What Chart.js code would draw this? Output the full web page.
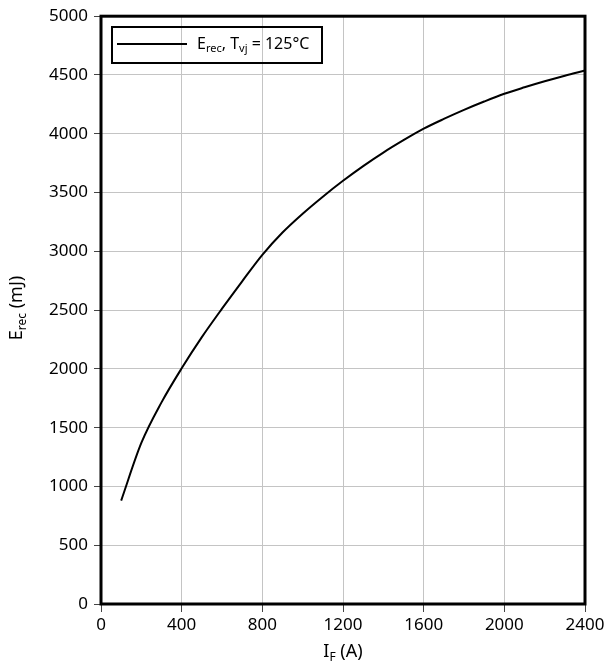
<!DOCTYPE html>
<html>
<head>
<meta charset="utf-8">
<script src="https://cdn.jsdelivr.net/npm/chart.js@4"></script>
<style>
  html, body { margin: 0; padding: 0; background: #fff; }
  #wrap { width: 610px; height: 668px; position: relative; }
</style>
</head>
<body>
<div id="wrap"><canvas id="chart"></canvas></div>
<script>
// datos
const currentA = [100, 200, 300, 400, 500, 600, 700, 800, 900, 1000, 1100, 1200, 1300, 1400, 1500, 1600, 1700, 1800, 1900, 2000, 2100, 2200, 2300, 2400];
const erecMJ   = [880, 1370, 1715, 2005, 2270, 2512, 2745, 2970, 3160, 3320, 3465, 3600, 3725, 3840, 3945, 4043, 4126, 4203, 4274, 4340, 4395, 4446, 4494, 4538];
const xTicks = [0, 400, 800, 1200, 1600, 2000, 2400];
const yTicks = [0, 500, 1000, 1500, 2000, 2500, 3000, 3500, 4000, 4500, 5000];

const FONT = '"Noto Sans", "Open Sans", sans-serif';

// texto con subíndice
function drawSub(ctx, parts, x, y, size) {
    let cx = x;
    parts.forEach(p => {
        ctx.font = (p.sub ? Math.round(size * 0.68) : size) + 'px ' + FONT;
        ctx.fillText(p.t, cx, y + (p.sub ? size * 0.33 : 0));
        cx += ctx.measureText(p.t).width;
    });
    return cx - x;
}
function measureSub(ctx, parts, size) {
    let w = 0;
    parts.forEach(p => {
        ctx.font = (p.sub ? Math.round(size * 0.68) : size) + 'px ' + FONT;
        w += ctx.measureText(p.t).width;
    });
    return w;
}

const extras = {
    id: 'extras',
    afterDraw(chart) {
        const ctx = chart.ctx;
        const a = chart.chartArea;
        ctx.save();
        // marco grueso
        ctx.strokeStyle = '#000';
        ctx.lineWidth = 3;
        ctx.strokeRect(a.left, a.top, a.right - a.left, a.bottom - a.top);

        ctx.fillStyle = '#000';
        ctx.textBaseline = 'middle';

        // leyenda
        ctx.lineWidth = 2;
        ctx.strokeRect(112, 27, 210, 36);
        ctx.beginPath();
        ctx.moveTo(117, 44);
        ctx.lineTo(187, 44);
        ctx.stroke();
        drawSub(ctx, [{t: 'E'}, {t: 'rec', sub: true}, {t: ', T'}, {t: 'vj', sub: true}, {t: ' = 125°C'}], 197, 44, 16);

        // título eje x
        const xp = [{t: 'I'}, {t: 'F', sub: true}, {t: ' (A)'}];
        drawSub(ctx, xp, 343 - measureSub(ctx, xp, 18) / 2, 652, 18);

        // título eje y
        const yp = [{t: 'E'}, {t: 'rec', sub: true}, {t: ' (mJ)'}];
        ctx.translate(17, 308);
        ctx.rotate(-Math.PI / 2);
        drawSub(ctx, yp, -measureSub(ctx, yp, 18) / 2, 0, 18);
        ctx.restore();
    }
};

new Chart(document.getElementById('chart'), {
    type: 'line',
    data: {
        datasets: [{
            data: currentA.map((x, i) => ({ x: x, y: erecMJ[i] })),
            borderColor: '#000',
            borderWidth: 2,
            pointRadius: 0,
            fill: false,
            cubicInterpolationMode: 'monotone'
        }]
    },
    options: {
        responsive: true,
        maintainAspectRatio: false,
        animation: false,
        layout: { padding: { top: 15, right: 25, left: 0, bottom: 0 } },
        plugins: { legend: { display: false }, tooltip: { enabled: false } },
        scales: {
            x: {
                type: 'linear',
                min: 0, max: 2400,
                afterBuildTicks: s => { s.ticks = xTicks.map(v => ({ value: v })); },
                afterFit: s => { s.height = 64; },
                grid: { color: '#c4c4c4', lineWidth: 1, tickLength: 8, tickColor: '#444', tickWidth: 1 },
                border: { display: false },
                ticks: { color: '#000', font: { family: FONT, size: 17 }, padding: 3, maxRotation: 0,
                         callback: v => String(v) }
            },
            y: {
                min: 0, max: 5000,
                afterBuildTicks: s => { s.ticks = yTicks.map(v => ({ value: v })); },
                afterFit: s => { s.width = 101; },
                grid: { color: '#c4c4c4', lineWidth: 1, tickLength: 7, tickColor: '#444', tickWidth: 1 },
                border: { display: false },
                ticks: { color: '#000', font: { family: FONT, size: 17 }, padding: 6,
                         callback: v => String(v) }
            }
        }
    },
    plugins: [extras]
});
</script>
</body>
</html>
